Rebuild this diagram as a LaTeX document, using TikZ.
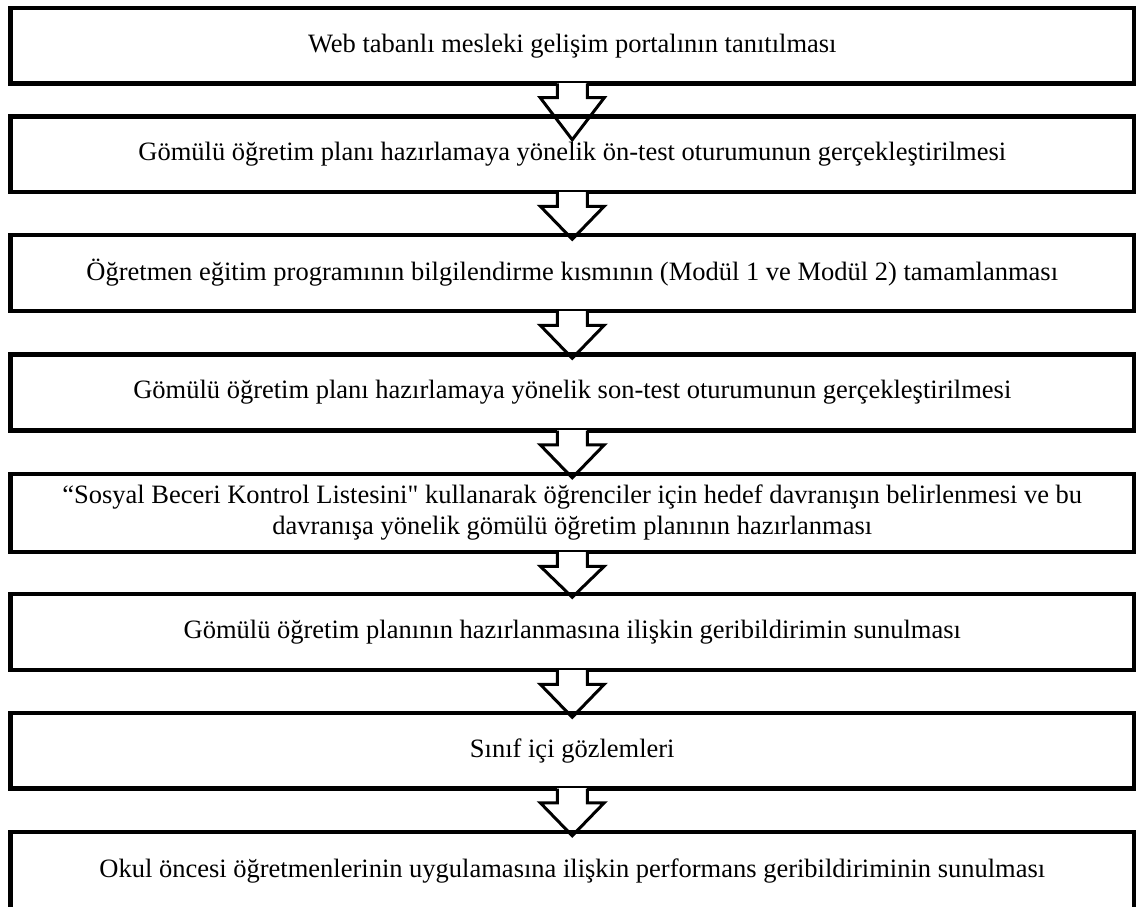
\documentclass[tikz,border=0pt]{standalone}
\usepackage{fontspec}
\setmainfont{Liberation Serif}[Ligatures=TeXOff]
\usetikzlibrary{calc}
\begin{document}
\begin{tikzpicture}[x=1pt,y=-1pt,
  stepbox/.style={draw=black, line width=4.5pt, minimum width=1123.5pt, inner sep=0pt,
    align=center, font=\fontsize{26.5}{31}\selectfont},
  blockarrow/.style={draw=black, line width=3pt, line join=miter}]
\useasboundingbox (0,0) rectangle (1136,907);
\node[stepbox, minimum height=75.5pt] (b1) at (572.25,45.75) {Web tabanlı mesleki gelişim portalının tanıtılması};
\node[stepbox, minimum height=75.5pt] (b2) at (572.25,154.25) {Gömülü öğretim planı hazırlamaya yönelik ön-test oturumunun gerçekleştirilmesi};
\node[stepbox, minimum height=76pt] (b3) at (572.25,273) {Öğretmen eğitim programının bilgilendirme kısmının (Modül 1 ve Modül 2) tamamlanması};
\node[stepbox, minimum height=76pt] (b4) at (572.25,392.5) {Gömülü öğretim planı hazırlamaya yönelik son-test oturumunun gerçekleştirilmesi};
\node[stepbox, minimum height=78pt] (b5) at (572.25,513) {“Sosyal Beceri Kontrol Listesini" kullanarak öğrenciler için hedef davranışın belirlenmesi ve bu\\davranışa yönelik gömülü öğretim planının hazırlanması};
\node[stepbox, minimum height=76pt] (b6) at (572.25,632) {Gömülü öğretim planının hazırlanmasına ilişkin geribildirimin sunulması};
\node[stepbox, minimum height=75.5pt] (b7) at (572.25,750.75) {Sınıf içi gözlemleri};
\node[stepbox, minimum height=78pt] (b8) at (572.25,871) {Okul öncesi öğretmenlerinin uygulamasına ilişkin performans geribildiriminin sunulması};
\foreach \a/\l in {b1/54,b2/45,b3/45,b4/45,b5/43,b6/45,b7/45}{
  \fill[white] ($(\a.south)+(-15,-2.6)$) rectangle ($(\a.south)+(15,12)$);
  \draw[blockarrow] ($(\a.south)+(-15,-2.25)$) -- ($(\a.south)+(-15,12)$) -- ($(\a.south)+(-32,12)$)
     -- ($(\a.south)+(0,\l)$) -- ($(\a.south)+(32,12)$) -- ($(\a.south)+(15,12)$) -- ($(\a.south)+(15,-2.25)$);
}
\end{tikzpicture}
\end{document}
